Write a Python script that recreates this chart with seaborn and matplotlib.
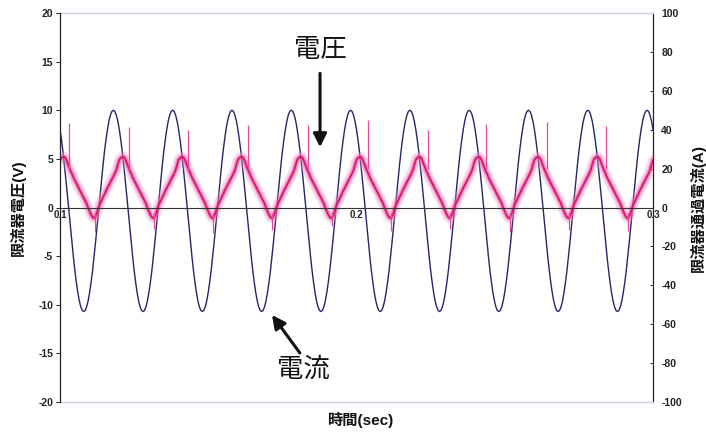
import numpy as np
import pandas as pd
import matplotlib
matplotlib.use('Agg')
import matplotlib.pyplot as plt
import seaborn as sns

# ── data: one 20 ms cycle (50 Hz), 0.5 ms steps from t = 0.100 s
current_cycle_a = [40.1, 34.8, 28.7, 21.7, 14.2, 6.3, -1.8, -9.8, -17.7, -25.2,
                   -32.2, -38.3, -43.6, -47.9, -51.0, -52.9, -53.5, -52.9, -51.0, -47.9,
                   -43.6, -38.3, -32.2, -25.2, -17.7, -9.8, -1.8, 6.3, 14.2, 21.7,
                   28.7, 34.8, 40.1, 44.4, 47.5, 49.4, 50.0, 49.4, 47.5, 44.4]
voltage_cycle_v = [4.9, 5.1, 5.2, 5.2, 5.0, 4.6, 4.2, 3.8, 3.5, 3.1,
                   2.8, 2.5, 2.2, 1.9, 1.6, 1.3, 1.0, 0.7, 0.4, -0.05,
                   -0.4, -0.75, -1.0, -1.1, -0.9, -0.5, 0.0, 0.4, 0.7, 1.05,
                   1.35, 1.7, 2.0, 2.3, 2.6, 2.9, 3.2, 3.5, 3.85, 4.4]
n_cycles = 10
t_start = 0.100
t_step = 0.0005

# switching spikes on the voltage trace
spike_t = [0.1030, 0.1233, 0.1432, 0.1634, 0.1836, 0.2039, 0.2241, 0.2437, 0.2643, 0.2841]
spike_top = [8.7, 8.3, 8.0, 8.5, 8.5, 9.0, 8.0, 8.6, 8.8, 8.4]
dip_t = [0.1118, 0.1318, 0.1517, 0.1716, 0.1917, 0.2117, 0.2316, 0.2517, 0.2716, 0.2915]
dip_bottom = [-2.5, -2.2, -2.6, -2.3, -1.9, -2.4, -2.2, -2.5, -2.3, -2.4]

x_ticks = [0.1, 0.2, 0.3]
x_tick_labels = ['0.1', '0.2', '0.3']
v_ticks = [-20, -15, -10, -5, 0, 5, 10, 15, 20]
a_ticks = [-100, -80, -60, -40, -20, 0, 20, 40, 60, 80, 100]

sns.set_theme(style='white')
plt.rcParams['font.family'] = ['Liberation Sans', 'Noto Sans CJK JP']
plt.rcParams['axes.unicode_minus'] = False

n_pts = len(current_cycle_a) * n_cycles + 1
df = pd.DataFrame({
    't': t_start + t_step * np.arange(n_pts),
    'current': np.append(np.tile(current_cycle_a, n_cycles), current_cycle_a[0]),
    'voltage': np.append(np.tile(voltage_cycle_v, n_cycles), voltage_cycle_v[0]),
})

fig = plt.figure(figsize=(7.06, 4.32), dpi=100)
ax = fig.add_axes([60 / 706, 30 / 432, 593 / 706, 389 / 432])
ax2 = ax.twinx()
ax.set_zorder(ax2.get_zorder() + 1)
ax.patch.set_visible(False)

# current (right axis)
sns.lineplot(data=df, x='t', y='current', ax=ax2, color='#25256c', lw=1.0)

# voltage (left axis): fuzzy band + core line + spikes
sns.lineplot(data=df, x='t', y='voltage', ax=ax, color='#f390c0', lw=7.0, alpha=0.35)
sns.lineplot(data=df, x='t', y='voltage', ax=ax, color='#ec5aa2', lw=3.5, alpha=0.55)
sns.lineplot(data=df, x='t', y='voltage', ax=ax, color='#d8156f', lw=1.3)
ax.vlines(spike_t, 4.0, spike_top, color='#e84a9c', lw=0.9)
ax.vlines(dip_t, dip_bottom, -0.6, color='#e84a9c', lw=0.9)

ax.set_xlim(0.1, 0.3)
ax.set_ylim(-20, 20)
ax2.set_ylim(-100, 100)

ax.set_xticks(x_ticks)
ax.set_xticklabels(x_tick_labels)
ax.set_yticks(v_ticks)
ax2.set_yticks(a_ticks)

# spines: axis line at zero, grey frame top/bottom, black left/right
ax.spines['bottom'].set_position(('data', 0))
ax.spines['bottom'].set_color('#333333')
ax.spines['bottom'].set_linewidth(0.8)
ax.spines['left'].set_color('#222222')
ax.spines['left'].set_linewidth(0.9)
ax.spines['top'].set_visible(False)
ax.spines['right'].set_visible(False)
ax2.spines['left'].set_visible(False)
ax2.spines['right'].set_color('#222222')
ax2.spines['right'].set_linewidth(0.9)
ax2.spines['top'].set_color('#c9cfdd')
ax2.spines['bottom'].set_color('#c9cfdd')
ax2.spines['top'].set_linewidth(1.0)
ax2.spines['bottom'].set_linewidth(1.0)

ax.tick_params(axis='x', direction='in', length=3, width=0.7, pad=2,
               labelsize=7, colors='#222222')
ax.tick_params(axis='y', direction='out', length=3, width=0.7, pad=2,
               labelsize=7.5, colors='#222222', left=True)
ax2.tick_params(axis='y', direction='in', length=2, width=0.7, pad=6,
                labelsize=7.5, colors='#222222', right=True)
for lab in ax.get_xticklabels() + ax.get_yticklabels() + ax2.get_yticklabels():
    lab.set_fontweight('bold')

ax.set_xlabel('時間(sec)', fontsize=11, fontweight='bold', color='#111111')
ax.xaxis.set_label_coords(0.507, -0.025)
ax.set_ylabel('限流器電圧(V)', fontsize=11, fontweight='bold', color='#111111')
ax.yaxis.set_label_coords(-0.058, 0.5)
ax2.set_ylabel('限流器通過電流(A)', fontsize=11, fontweight='bold', color='#111111')
ax2.yaxis.set_label_coords(1.062, 0.5)

# callouts
ax.text(0.1877, 16.2, '電圧', fontsize=19, ha='center', va='center',
        family=['Noto Sans CJK JP'], color='#111111')
ax.annotate('', xy=(0.1877, 6.2), xytext=(0.1877, 13.8),
            arrowprops=dict(arrowstyle='-|>', color='#111111', lw=2.2,
                            mutation_scale=20, shrinkA=0, shrinkB=0))
ax.text(0.1820, -16.6, '電流', fontsize=19, ha='center', va='center',
        family=['Noto Sans CJK JP'], color='#111111')
ax.annotate('', xy=(0.1715, -11.05), xytext=(0.1809, -14.96),
            arrowprops=dict(arrowstyle='-|>', color='#111111', lw=2.2,
                            mutation_scale=20, shrinkA=0, shrinkB=0))

fig.savefig('out.png', dpi=100)
plt.close(fig)
